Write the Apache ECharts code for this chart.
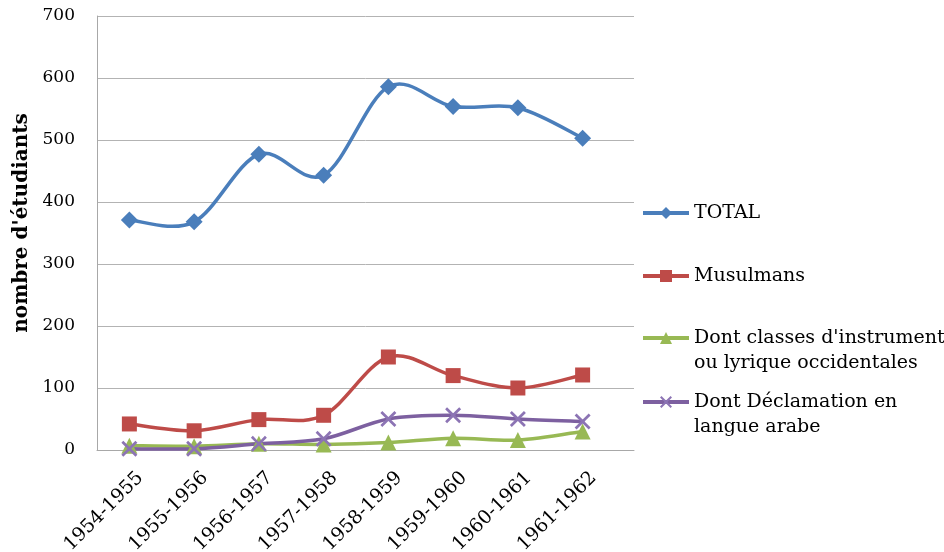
<!DOCTYPE html>
<html>
<head>
<meta charset="utf-8">
<script src="https://cdn.jsdelivr.net/npm/echarts@6/dist/echarts.min.js"></script>
<style>html,body{margin:0;padding:0;background:#fff}#c{width:944px;height:552px}</style>
</head>
<body>
<div id="c"></div>
<script>
var categories = ['1954-1955','1955-1956','1956-1957','1957-1958','1958-1959','1959-1960','1960-1961','1961-1962'];
var totalValues = [371, 368, 477, 443, 586, 554, 552, 503];
var musulmansValues = [42, 31, 49, 56, 150, 120, 100, 121];
var instrumentValues = [7, 6, 10, 9, 12, 19, 16, 30];
var declamationValues = [2, 2, 10, 18, 50, 56, 50, 46];
var yTicks = [0, 100, 200, 300, 400, 500, 600, 700];

var seriesNames = ['TOTAL', 'Musulmans', "Dont classes d'instrument\nou lyrique occidentales", 'Dont Déclamation en\nlangue arabe'];
var FONT = 'DejaVu Serif';
var crossPath = 'path://M0,1.2L1.2,0L5,3.8L8.8,0L10,1.2L6.2,5L10,8.8L8.8,10L5,6.2L1.2,10L0,8.8L3.8,5Z';

var chart = echarts.init(document.getElementById('c'));
function legendFor(name, top, multi) {
  return {
    orient: 'vertical', left: 641, top: top, padding: 0,
    itemWidth: 46, itemHeight: 15,
    data: [{ name: name }],
    formatter: function (n) { return multi ? '\n' + n : n; },
    lineStyle: { width: 4, opacity: 1 },
    textStyle: { fontFamily: FONT, fontSize: 19, color: '#000', lineHeight: 25 },
    selectedMode: false
  };
}
// Excel-like smoothed curve (Catmull-Rom / Bezier) through the data points, positioned by the axes
function curveSeries(name, values, color) {
  var n = values.length;
  return {
    name: name + ' (courbe)', type: 'custom', xAxisIndex: 1, yAxisIndex: 1, silent: true, clip: false,
    data: values.map(function (v, i) { return [i, v]; }),
    encode: { x: 0, y: 1 },
    renderItem: function (params, api) {
      var i = params.dataIndex;
      if (i >= n - 1) return { type: 'group', children: [] };
      function p(k) { k = Math.max(0, Math.min(n - 1, k)); return api.coord([k, values[k]]); }
      var p0 = p(i - 1), p1 = p(i), p2 = p(i + 1), p3 = p(i + 2);
      var t = 1 / 6;
      return {
        type: 'bezierCurve',
        shape: {
          x1: p1[0], y1: p1[1], x2: p2[0], y2: p2[1],
          cpx1: p1[0] + (p2[0] - p0[0]) * t, cpy1: p1[1] + (p2[1] - p0[1]) * t,
          cpx2: p2[0] - (p3[0] - p1[0]) * t, cpy2: p2[1] - (p3[1] - p1[1]) * t
        },
        style: { stroke: color, lineWidth: 3.5, fill: null, lineCap: 'round' }
      };
    }
  };
}
function markerSeries(name, values, color, symbol, size, markerColor) {
  return {
    name: name, type: 'line', xAxisIndex: 1, yAxisIndex: 1, data: values,
    symbol: symbol, symbolSize: size, showAllSymbol: true,
    lineStyle: { color: color, width: 3.5, opacity: 0 },
    itemStyle: { color: markerColor || color }
  };
}
chart.setOption({
  animation: false,
  backgroundColor: '#fff',
  legend: [
    legendFor(seriesNames[0], 200.5, false),
    legendFor(seriesNames[1], 263.5, false),
    legendFor(seriesNames[2], 300.5, true),
    legendFor(seriesNames[3], 364.5, true)
  ],
  grid: [
    { left: 97, right: 310, top: 16, bottom: 102, containLabel: false, outerBoundsMode: 'none' },
    { left: 97, width: 518, top: 16, bottom: 102, containLabel: false, outerBoundsMode: 'none' }
  ],
  xAxis: [
    { type: 'value', gridIndex: 0, min: 0, max: 1, axisLabel: { show: false }, axisTick: { show: false }, splitLine: { show: false },
      axisLine: { show: true, lineStyle: { color: '#a8a8a8', width: 1 } } },
    { type: 'category', gridIndex: 1, data: categories, boundaryGap: true,
      axisLine: { show: false }, axisTick: { show: false },
      axisLabel: { rotate: 45, interval: 0, margin: 14, verticalAlign: 'top', padding: [6, 0, 0, 0],
        fontFamily: FONT, fontSize: 19, color: '#000' } }
  ],
  yAxis: [
    { type: 'value', gridIndex: 0, min: 0, max: 700, interval: 100,
      axisLine: { show: true, lineStyle: { color: '#a8a8a8', width: 1 } }, axisTick: { show: false },
      axisLabel: { show: false },
      splitLine: { show: true, lineStyle: { color: '#b3b3b3', width: 1 } } },
    { type: 'value', gridIndex: 1, min: 0, max: 700, interval: 100,
      name: "nombre d'étudiants", nameLocation: 'middle', nameGap: 59, nameRotate: 90,
      nameTextStyle: { fontFamily: FONT, fontWeight: 'bold', fontSize: 20, color: '#000', padding: [0, 0, 0, 20] },
      axisLine: { show: false }, axisTick: { show: false }, splitLine: { show: false },
      axisLabel: { margin: 22, fontFamily: FONT, fontSize: 17, color: '#000',
        formatter: function (v) { return yTicks.indexOf(v) >= 0 ? String(v) : ''; } } }
  ],
  series: [
    curveSeries(seriesNames[0], totalValues, '#4A7EBB'),
    markerSeries(seriesNames[0], totalValues, '#4A7EBB', 'diamond', 17),
    curveSeries(seriesNames[1], musulmansValues, '#BE4B48'),
    markerSeries(seriesNames[1], musulmansValues, '#BE4B48', 'rect', 15),
    curveSeries(seriesNames[2], instrumentValues, '#98B954'),
    markerSeries(seriesNames[2], instrumentValues, '#98B954', 'triangle', 16),
    curveSeries(seriesNames[3], declamationValues, '#7D60A0'),
    markerSeries(seriesNames[3], declamationValues, '#7D60A0', crossPath, 16, '#8C74B4')
  ]
});
</script>
</body>
</html>
